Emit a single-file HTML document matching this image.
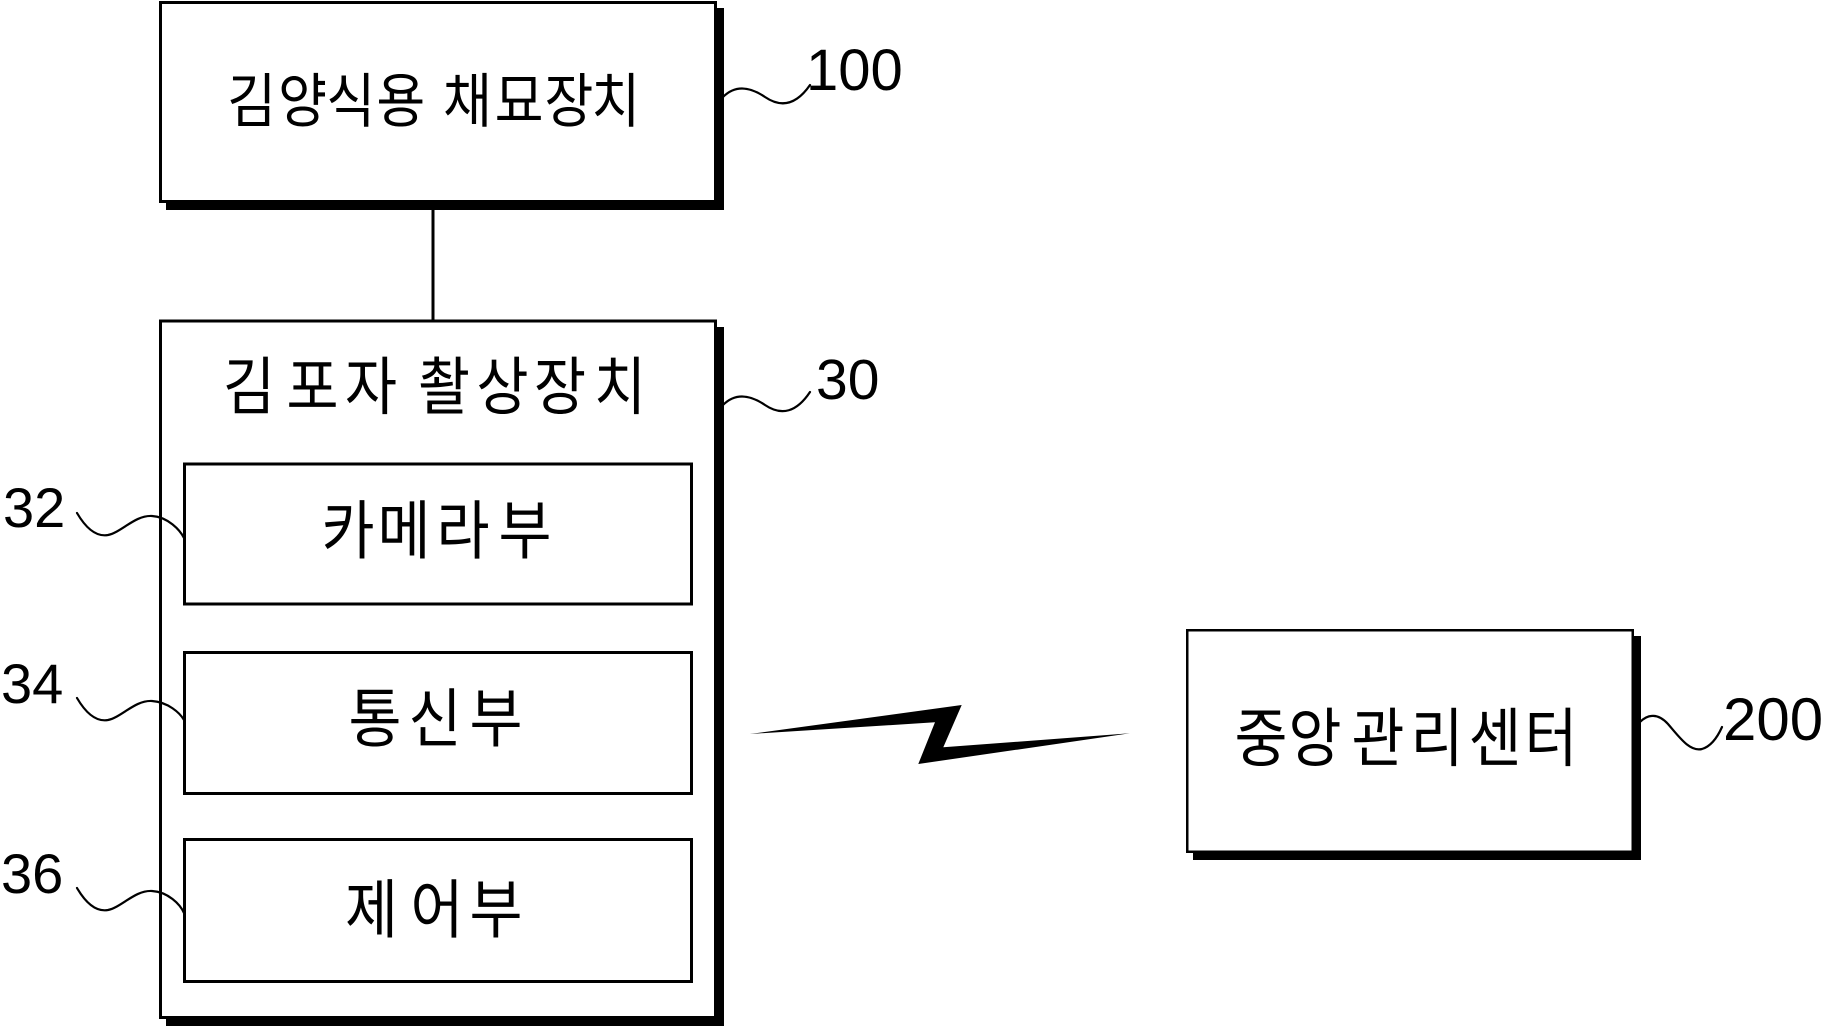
<!DOCTYPE html>
<html>
<head>
<meta charset="utf-8">
<style>
  html, body { margin: 0; padding: 0; background: #fff; }
  body { width: 1823px; height: 1026px; overflow: hidden; }
  svg { display: block; }
  .kr { font-family: "Noto Sans CJK KR", "NanumGothic", "Liberation Sans", sans-serif; fill: #000; }
  .num { font-family: "Liberation Sans", "DejaVu Sans", sans-serif; fill: #000; }
</style>
</head>
<body>
<svg width="1823" height="1026" viewBox="0 0 1823 1026" xmlns="http://www.w3.org/2000/svg">
  <rect x="0" y="0" width="1823" height="1026" fill="#fff"/>

  <!-- Box 100 -->
  <rect x="166" y="8" width="558" height="202" fill="#000"/>
  <rect x="160.5" y="2.5" width="555" height="199" fill="#fff" stroke="#000" stroke-width="3"/>
  <g transform="scale(0.9,1)">
    <text class="kr" font-size="59" text-anchor="middle" x="279.7 336.1 389.8 445.3" y="122">김양식용</text>
    <text class="kr" font-size="59" text-anchor="middle" x="519.4 576.7 632.2 684.2" y="122">채묘장치</text>
  </g>

  <!-- connector -->
  <line x1="433" y1="203" x2="433" y2="321" stroke="#000" stroke-width="3"/>

  <!-- Box 30 -->
  <rect x="166" y="327" width="558" height="699" fill="#000"/>
  <rect x="160.5" y="321" width="555" height="696.5" fill="#fff" stroke="#000" stroke-width="3"/>
  <g transform="scale(0.9,1)">
    <text class="kr" font-size="63" text-anchor="middle" x="276.7 347.2 412.2" y="409">김포자</text>
    <text class="kr" font-size="63" text-anchor="middle" x="493.3 558.3 622.2 688.9" y="409">촬상장치</text>
  </g>

  <!-- inner boxes -->
  <rect x="184.5" y="464" width="507" height="140" fill="#fff" stroke="#000" stroke-width="3"/>
  <rect x="184.5" y="652.5" width="507" height="141" fill="#fff" stroke="#000" stroke-width="3"/>
  <rect x="184.5" y="839.5" width="507" height="142" fill="#fff" stroke="#000" stroke-width="3"/>
  <g transform="scale(0.9,1)">
    <text class="kr" font-size="64" text-anchor="middle" x="386.7 448.9 514.4 583.3" y="553.5">카메라부</text>
    <text class="kr" font-size="64" text-anchor="middle" x="416.7 483.3 551.1" y="741.5">통신부</text>
    <text class="kr" font-size="64" text-anchor="middle" x="412.8 485.5 551.1" y="932.5">제어부</text>
  </g>

  <!-- Box 200 -->
  <rect x="1193" y="636" width="448" height="224" fill="#000"/>
  <rect x="1187.25" y="630.25" width="445.5" height="221.5" fill="#fff" stroke="#000" stroke-width="2.5"/>
  <g transform="scale(0.9,1)">
    <text class="kr" font-size="64" text-anchor="middle" x="1401.1 1461.1 1531.1 1596.7 1661.1 1723.3" y="761">중앙관리센터</text>
  </g>

  <!-- wireless zigzag -->
  <polygon points="750,734 961.7,705 943.3,747.3 1130,733.3 918.3,764 935,722.3" fill="#000"/>

  <!-- leader lines -->
  <g fill="none" stroke="#000" stroke-width="2.2" stroke-linecap="round">
    <path d="M723,97 Q740,80 765,97 T810,85"/>
    <path d="M723,405 Q740,388 765,405 T810,392"/>
    <path d="M1640,722 C1648,714 1658,713 1668,724 C1680,738 1690,752 1702,749 C1712,746 1718,736 1722,727"/>
    <path d="M77,513 C87,530 97,537 108,535 C122,532 135,515 152,516 C168,517 180,530 184,538"/>
    <path d="M77,698 C87,715 97,722 108,720 C122,717 135,700 152,701 C168,702 180,713 184,720"/>
    <path d="M77,888 C87,905 97,912 108,910 C122,907 135,890 152,891 C168,892 180,904 184,913"/>
  </g>

  <!-- reference numerals -->
  <text class="num" font-size="58" x="806" y="90">100</text>
  <text class="num" font-size="57" x="816" y="399">30</text>
  <text class="num" font-size="60" x="1723" y="740">200</text>
  <text class="num" font-size="56" x="3" y="527">32</text>
  <text class="num" font-size="56" x="1" y="703">34</text>
  <text class="num" font-size="56" x="1" y="893">36</text>
</svg>
</body>
</html>
